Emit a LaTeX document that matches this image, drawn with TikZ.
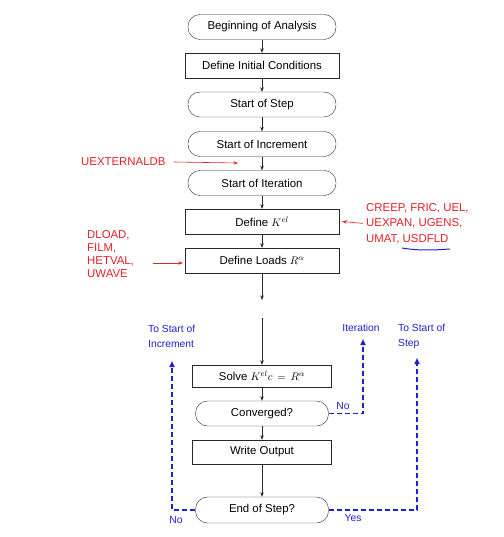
\documentclass[tikz,border=0pt]{standalone}
\usepackage{fontspec}
\setmainfont{Liberation Sans}
\usepackage{xcolor}
\usetikzlibrary{arrows.meta,positioning}
\definecolor{ured}{RGB}{228,32,40}
\definecolor{ublue}{RGB}{32,32,205}
\definecolor{uline}{RGB}{40,40,40}

\begin{document}
\begin{tikzpicture}[x=1pt,y=-1pt,>={Stealth[length=4.5pt,width=3.5pt]},
  font=\fontsize{11.4}{13}\selectfont,
  rbox/.style={draw=uline,rounded corners=12pt,minimum width=148pt,minimum height=25pt,inner sep=0pt},
  sbox/.style={draw=uline,minimum width=154pt,minimum height=25pt,inner sep=0pt},
  flow/.style={->,draw=uline,line width=0.5pt},
  sub/.style={text=ured,align=left,inner sep=0pt},
  subarrow/.style={->,draw=ured,line width=0.6pt},
  back/.style={draw=ublue,line width=1.7pt,dash pattern=on 5pt off 3pt,-{Triangle[length=6pt,width=5pt]}},
  lbl/.style={text=ublue,font=\fontsize{10.3}{15}\selectfont,align=left,inner sep=0pt}]
  \useasboundingbox (0,0) rectangle (503,537);

  % main loop
  \node[rbox] (begin) at (262,27)    {Beginning of Analysis};
  \node[sbox] (init)  at (262,65.5)  {Define Initial Conditions};
  \node[rbox] (step)  at (262,104.5) {Start of Step};
  \node[rbox] (incr)  at (262,144)   {Start of Increment};
  \node[rbox] (iter)  at (262,183)   {Start of Iteration};
  \node[sbox] (kel)   at (262,221.5) {Define $K^{el}$};
  \node[sbox] (loads) at (262,260.5) {Define Loads $R^{\alpha}$};
  \node[sbox,minimum width=139pt,minimum height=22pt] (solve) at (262,376) {Solve $K^{el}c\,=\,R^{\alpha}$};
  \node[rbox,minimum width=133pt] (conv) at (262,413.5) {Converged?};
  \node[sbox,minimum width=139pt,minimum height=24pt] (write) at (262,452) {Write Output};
  \node[rbox,minimum width=133pt,minimum height=26pt] (eos) at (262,510) {End of Step?};
  \coordinate (gapa) at (262,300);
  \coordinate (gapb) at (262,318);

  \foreach \from/\to in {begin/init,init/step,step/incr,incr/iter,iter/kel,kel/loads,
      loads/gapa,gapb/solve,solve/conv,conv/write,write/eos}
    \draw[flow] (\from) -- (\to);

  % user subroutines
  \node[sub,anchor=west] (uext) at (81,162) {UEXTERNALDB};
  \coordinate (uexttip) at (238,163);
  \draw[subarrow] ([xshift=8pt]uext.east) -- (uexttip);

  \node[sub,anchor=north west,font=\fontsize{11.4}{15.5}\selectfont] (creep) at (366,203)
    {CREEP, FRIC, UEL,\\UEXPAN, UGENS,\\UMAT, USDFLD};
  \draw[subarrow] ([xshift=-3pt]creep.west) -- ([xshift=3pt]kel.east);
  \draw[ublue,line width=1pt] (402,248) .. controls (420,251) and (435,250) .. (450,249);

  \node[sub,anchor=north west] (dload) at (87,230) {DLOAD,\\FILM,\\HETVAL,\\UWAVE};
  \draw[subarrow] (153,263) -- ([xshift=-2pt]loads.west |- 0,263);

  % loop backs
  \coordinate (itertip) at (363,339);
  \coordinate (incrtip) at (172,361);
  \coordinate (steptip) at (417,358);
  \draw[back] (conv.east) -| (itertip);
  \draw[back] (eos.west) -| (incrtip);
  \draw[back] (eos.east) -| (steptip);

  \node[lbl] (iterlbl) at (361,328) {Iteration};
  \node[lbl,anchor=west] (incrlbl) at (148,336.5) {To Start of\\Increment};
  \node[lbl,anchor=west] (steplbl) at (398,336.5) {To Start of\\Step};
  \node[lbl] (convno) at (343,406) {No};
  \node[lbl] (eosno)  at (176,520) {No};
  \node[lbl] (eosyes) at (353,518) {Yes};
\end{tikzpicture}
\end{document}
